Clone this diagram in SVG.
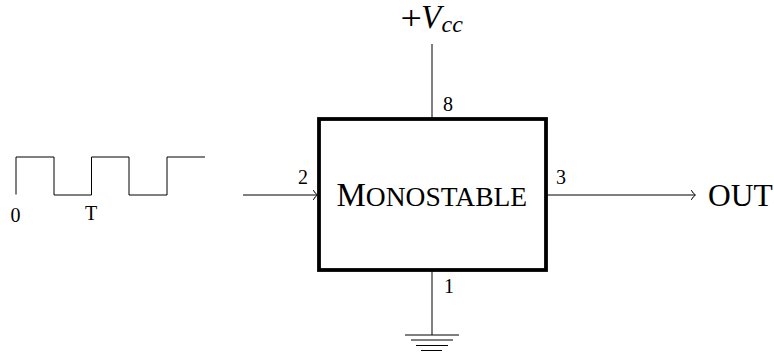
<svg xmlns="http://www.w3.org/2000/svg" width="774" height="352" viewBox="0 0 774 352">
<defs>
<style>
text{font-family:"Liberation Serif","Times New Roman",serif;fill:#000}
.w{fill:none;stroke:#000;stroke-width:1;stroke-linejoin:miter}
.s{font-size:20px}
.arrow{fill:none;stroke:#000;stroke-width:1;stroke-linecap:round}
</style>
</defs>
<rect width="774" height="352" fill="#fff"/>
<g id="connectors">
<path class="w" d="M432 44V118"/>
<path class="w" d="M243 195H317"/>
<path class="w" d="M547 195H695"/>
<path class="w" d="M432 271V335"/>
<path class="arrow" d="M313.500 190.500Q315 193.500 317.500 195Q315 196.500 313.500 199.500"/>
<path class="arrow" d="M691.500 190.500Q693 193.500 695.500 195Q693 196.500 691.500 199.500"/>
</g>
<g id="waveform">
<path class="w" d="M16 194.500V157H54V195H91.500V157H129V195H167V157H205"/>
<text class="s" x="10.500" y="221.500">0</text>
<text class="s" x="85" y="220">T</text>
</g>
<g id="monostable">
<rect x="319" y="119" width="227" height="151" fill="#fff" stroke="#000" stroke-width="3.800"/>
<text x="336.500" y="206" font-size="33">M<tspan font-size="27.500">ONOSTABLE</tspan></text>
</g>
<g id="vcc">
<text transform="translate(400.500 29) scale(1.15 1)" font-size="33">+</text>
<text x="421" y="28" font-size="33" font-style="italic">V<tspan font-size="24" x="441.500" y="32">cc</tspan></text>
</g>
<g id="ground">
<path class="w" d="M405 335H459M411 340H453M416 345.500H448M421 350.500H442"/>
</g>
<g id="pin-labels">
<text class="s" x="443" y="111">8</text>
<text class="s" x="298" y="184">2</text>
<text class="s" x="556" y="184">3</text>
<text class="s" x="444" y="293">1</text>
</g>
<g id="out">
<text x="708" y="205.500" font-size="31.500">OUT</text>
</g>
</svg>
